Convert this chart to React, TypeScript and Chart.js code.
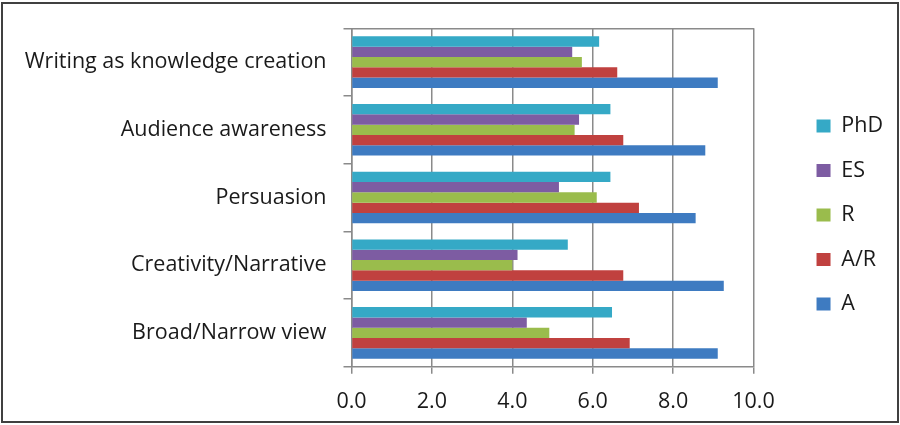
import { useEffect, useRef } from "react";
import { Chart, registerables } from "chart.js";

Chart.register(...registerables);

const categories = [
  "Writing as knowledge creation",
  "Audience awareness",
  "Persuasion",
  "Creativity/Narrative",
  "Broad/Narrow view",
];
const seriesNames = ["PhD", "ES", "R", "A/R", "A"];
const phdValues = [6.16, 6.44, 6.44, 5.38, 6.48];
const esValues = [5.49, 5.66, 5.16, 4.13, 4.36];
const rValues = [5.73, 5.55, 6.1, 4.0, 4.92];
const arValues = [6.61, 6.76, 7.15, 6.76, 6.92];
const aValues = [9.11, 8.8, 8.56, 9.26, 9.11];
const xTickValues = [0, 2, 4, 6, 8, 10];

const seriesColors = ["#35A9C6", "#7D5CA2", "#9ABC4C", "#C0413F", "#3E7BC1"];
const gridColor = "#8a8a8a";
const textColor = "#1a1a1a";
const fontFamily = "'Open Sans', sans-serif";
const fontSize = 21.5;

export default function App() {
  const canvasRef = useRef<HTMLCanvasElement | null>(null);

  useEffect(() => {
    if (!canvasRef.current) return;
    const values = [phdValues, esValues, rValues, arValues, aValues];
    const chart = new Chart(canvasRef.current, {
      type: "bar",
      data: {
        labels: categories,
        datasets: seriesNames.map((name, i) => ({
          label: name,
          data: values[i],
          backgroundColor: seriesColors[i],
          borderWidth: 0,
          xAxisID: "x",
          yAxisID: "y",
          categoryPercentage: 0.762,
          barPercentage: 1,
        })),
      },
      options: {
        indexAxis: "y",
        responsive: false,
        animation: false,
        layout: { padding: { left: 0, top: 13.3, right: 7, bottom: 8.3 } },
        plugins: {
          legend: {
            position: "right",
            align: "center",
            labels: {
              boxWidth: 14,
              boxHeight: 13,
              padding: 23,
              color: textColor,
              font: { family: fontFamily, size: fontSize },
            },
          },
          tooltip: { enabled: false },
        },
        scales: {
          x: {
            type: "linear",
            position: "bottom",
            min: 0,
            max: 10,
            afterBuildTicks: (s: any) => {
              s.ticks = xTickValues.map((v) => ({ value: v }));
            },
            ticks: {
              callback: (v: any) => Number(v).toFixed(1),
              padding: 15,
              color: textColor,
              font: { family: fontFamily, size: fontSize },
            },
            grid: { color: gridColor, lineWidth: 1.5, tickLength: 7, drawTicks: true },
            border: { display: true, color: gridColor, width: 1.5 },
            afterFit: (s: any) => {
              s.height = 50;
            },
          },
          xTop: {
            type: "linear",
            position: "top",
            min: 0,
            max: 10,
            grid: { display: false },
            ticks: { display: false },
            border: { display: true, color: gridColor, width: 1.5 },
            afterFit: (s: any) => {
              s.height = 15;
            },
          },
          y: {
            type: "category",
            position: "left",
            offset: true,
            grid: {
              display: true,
              drawOnChartArea: false,
              offset: true,
              tickLength: 8,
              color: gridColor,
              lineWidth: 1.5,
            },
            border: { display: true, color: gridColor, width: 1.5 },
            ticks: {
              padding: 17,
              color: textColor,
              font: { family: fontFamily, size: fontSize },
            },
            afterFit: (s: any) => {
              s.width = 351.5;
              s.paddingTop = 0;
              s.paddingBottom = 0;
            },
          },
          yRight: {
            type: "linear",
            position: "right",
            grid: { display: false },
            ticks: { display: false },
            border: { display: false },
            afterFit: (s: any) => {
              s.width = 40;
            },
          },
        },
      },
    } as any);
    return () => chart.destroy();
  }, []);

  return (
    <div
      style={{
        position: "fixed",
        left: 0,
        top: 0,
        width: 900,
        height: 425,
        background: "#ffffff",
      }}
    >
      <canvas
        ref={canvasRef}
        width={900}
        height={425}
        style={{ position: "absolute", left: 0, top: 0, width: 900, height: 425 }}
      />
      <div
        style={{
          position: "absolute",
          left: 1,
          top: 2,
          width: 898,
          height: 421,
          boxSizing: "border-box",
          border: "2px solid #404040",
          pointerEvents: "none",
        }}
      />
    </div>
  );
}
